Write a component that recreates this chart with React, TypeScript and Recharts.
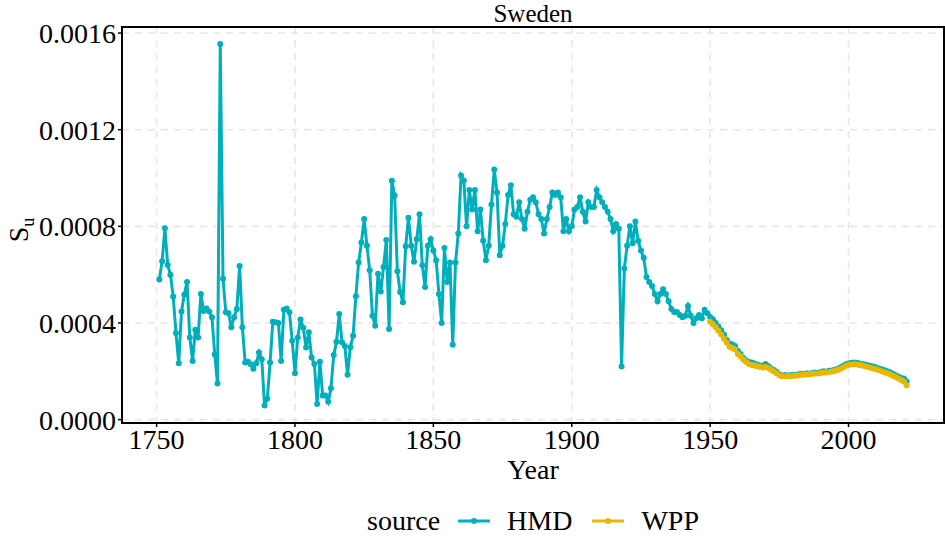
import React from 'react';
import { LineChart, Line, XAxis, YAxis, CartesianGrid, Legend, ReferenceArea } from 'recharts';

// HMD series, one value per year from 1751 to 2021
const hmdStart = 1751;
const hmdValues = [
  0.00058, 0.000655, 0.000792, 0.00064, 0.0006, 0.00051, 0.000358, 0.000233, 0.000447, 0.000517,
  0.00057, 0.00034, 0.000243, 0.000372, 0.00034, 0.00052, 0.00045, 0.00046, 0.000447, 0.000424,
  0.00027, 0.00015, 0.001555, 0.000583, 0.000444, 0.00044, 0.000382, 0.000424, 0.000458, 0.000636,
  0.000382, 0.000236, 0.00024, 0.000229, 0.000211, 0.000233, 0.000278, 0.00025, 0.000058, 0.000086,
  0.000236, 0.000405, 0.000403, 0.0004, 0.000243, 0.000455, 0.00046, 0.000444, 0.000326, 0.000192,
  0.00034, 0.000414, 0.00038, 0.000298, 0.000362, 0.000257, 0.00023, 0.000065, 0.00024, 0.0001,
  0.0001, 0.000074, 0.00013, 0.000267, 0.000322, 0.000437, 0.00032, 0.000305, 0.000186, 0.0003,
  0.000347, 0.000511, 0.00065, 0.000733, 0.00083, 0.00072, 0.000618, 0.00043, 0.000389, 0.000604,
  0.00053, 0.000632, 0.000743, 0.000375, 0.000989, 0.000928, 0.000614, 0.000528, 0.000486, 0.000718,
  0.000836, 0.00072, 0.000653, 0.000747, 0.00085, 0.000639, 0.000549, 0.00072, 0.000747, 0.0007,
  0.00066, 0.00052, 0.0004, 0.00071, 0.00057, 0.00065, 0.00031, 0.00065, 0.00077, 0.00101,
  0.00099, 0.0008, 0.00095, 0.00087, 0.00095, 0.00078, 0.00087, 0.00074, 0.00066, 0.00072,
  0.00089, 0.001035, 0.00094, 0.00068, 0.00072, 0.00081, 0.00093, 0.00097, 0.00085, 0.00084,
  0.0009, 0.00083, 0.00079, 0.00086, 0.00091, 0.00092, 0.0009, 0.00085, 0.00083, 0.00077,
  0.00083, 0.00088, 0.00094, 0.00093, 0.00094, 0.00092, 0.00078, 0.00083, 0.00078, 0.0008,
  0.00087, 0.00088, 0.00092, 0.00086, 0.00082, 0.0009, 0.00088, 0.00088, 0.00095, 0.00092,
  0.0009, 0.00088, 0.00086, 0.00083, 0.00078, 0.00081, 0.00079, 0.00022, 0.000625, 0.00072,
  0.0008, 0.00073, 0.00082, 0.00074, 0.0007, 0.00067, 0.00059, 0.00057, 0.000553, 0.00052,
  0.00049, 0.00052, 0.00054, 0.00052, 0.00049, 0.000458, 0.000445, 0.000445, 0.000433, 0.000424,
  0.00043, 0.00047, 0.00043, 0.0004, 0.00042, 0.000433, 0.00042, 0.000455, 0.00044, 0.000425,
  0.000415, 0.0004, 0.000385, 0.00037, 0.000352, 0.00033, 0.000315, 0.000312, 0.000305, 0.000285,
  0.000272, 0.000255, 0.000245, 0.000238, 0.000236, 0.000232, 0.000228, 0.000224, 0.000222, 0.00023,
  0.000222, 0.000212, 0.000205, 0.000198, 0.000188, 0.000182, 0.000185, 0.000183, 0.000184, 0.000186,
  0.000184, 0.000188, 0.00019, 0.000188, 0.000192, 0.00019, 0.000193, 0.000195, 0.000194, 0.000197,
  0.0002, 0.000198, 0.000202, 0.000203, 0.000206, 0.00021, 0.000216, 0.000222, 0.000228, 0.000232,
  0.000235, 0.000236, 0.000235, 0.000232, 0.00023, 0.000228, 0.000225, 0.000222, 0.00022, 0.000216,
  0.000212, 0.000208, 0.000204, 0.0002, 0.000196, 0.00019, 0.000184, 0.000178, 0.000172, 0.00017,
  0.000158,
];

// WPP series, 1950 to 2021
const wppStart = 1950;
const wppValues = [
  0.000405, 0.000395, 0.000382, 0.000368, 0.000352, 0.000335, 0.000318, 0.000302, 0.000296, 0.00029,
  0.000272, 0.000262, 0.000248, 0.000238, 0.00023, 0.000226, 0.000224, 0.000221, 0.000218, 0.000216,
  0.000218, 0.000214, 0.000206, 0.000199, 0.000192, 0.000184, 0.000179, 0.00018, 0.000179, 0.00018,
  0.000182, 0.000182, 0.000184, 0.000186, 0.000186, 0.000188, 0.000188, 0.00019, 0.000191, 0.000191,
  0.000193, 0.000195, 0.000195, 0.000197, 0.000199, 0.000201, 0.000205, 0.00021, 0.000216, 0.000222,
  0.000226, 0.000228, 0.000229, 0.000228, 0.000226, 0.000224, 0.000221, 0.000218, 0.000215, 0.000212,
  0.000208, 0.000204, 0.0002, 0.000196, 0.000192, 0.000188, 0.000182, 0.000176, 0.00017, 0.000164,
  0.000158, 0.000142,
];

const xTicks = [1750, 1800, 1850, 1900, 1950, 2000];
const yTicks = [0, 0.0004, 0.0008, 0.0012, 0.0016];

const HMD_COLOR = '#00AFBB';
const WPP_COLOR = '#E7B800';
const FONT = '"Liberation Serif", "Times New Roman", serif';

const X_DOMAIN: [number, number] = [1737.5, 2034.5];
const Y_DOMAIN: [number, number] = [-0.000014, 0.001625];

const data = hmdValues.map((v, i) => {
  const year = hmdStart + i;
  const w = year >= wppStart ? wppValues[year - wppStart] : undefined;
  return { year, hmd: v, wpp: w };
});

const LegendContent = () => (
  <div
    style={{
      display: 'flex',
      justifyContent: 'center',
      alignItems: 'center',
      fontFamily: FONT,
      fontSize: 28,
      lineHeight: '28px',
      color: '#000',
      paddingTop: 14,
      paddingLeft: 142,
    }}
  >
    <span style={{ marginRight: 18 }}>source</span>
    {[
      { name: 'HMD', color: HMD_COLOR },
      { name: 'WPP', color: WPP_COLOR },
    ].map((item) => (
      <span key={item.name} style={{ display: 'flex', alignItems: 'center', marginRight: 20 }}>
        <svg width={32} height={10} style={{ marginRight: 17 }}>
          <line x1={0} y1={5} x2={32} y2={5} stroke={item.color} strokeWidth={3} />
          <circle cx={16} cy={5} r={3} fill={item.color} />
        </svg>
        <span>{item.name}</span>
      </span>
    ))}
  </div>
);

const App: React.FC = () => {
  return (
    <div style={{ position: 'absolute', left: 0, top: 0, width: 945, height: 537, background: '#fff' }}>
      <svg width={40} height={120} style={{ position: 'absolute', left: 0, top: 170 }}>
        <text
          transform="translate(28,60) rotate(-90)"
          textAnchor="middle"
          fontFamily={FONT}
          fontSize={28}
          fill="#000"
        >
          S<tspan fontSize={18} dy={6}>u</tspan>
        </text>
      </svg>
      <LineChart
        width={945}
        height={537}
        data={data}
        margin={{ top: 27, right: 1, bottom: 0, left: 0 }}
        style={{ fontFamily: FONT }}
      >
        <CartesianGrid stroke="#E6E6E6" strokeWidth={1.6} strokeDasharray="7 6" verticalValues={xTicks} horizontalValues={yTicks} />
        <XAxis
          dataKey="year"
          type="number"
          domain={X_DOMAIN}
          ticks={xTicks}
          allowDataOverflow
          height={70}
          tickSize={4}
          tickMargin={2}
          axisLine={{ stroke: '#000', strokeWidth: 2 }}
          tickLine={{ stroke: '#000', strokeWidth: 1.5 }}
          tick={{ fill: '#000', fontSize: 28, fontFamily: FONT }}
          label={{ value: 'Year', position: 'insideBottom', offset: 14, fill: '#000', fontSize: 28, fontFamily: FONT }}
        />
        <YAxis
          type="number"
          domain={Y_DOMAIN}
          ticks={yTicks}
          allowDataOverflow
          width={122}
          tickSize={4}
          tickMargin={2}
          tickFormatter={(v: number) => v.toFixed(4)}
          axisLine={{ stroke: '#000', strokeWidth: 2 }}
          tickLine={{ stroke: '#000', strokeWidth: 1.5 }}
          tick={{ fill: '#000', fontSize: 28, fontFamily: FONT }}
        />
        <Legend verticalAlign="bottom" height={44} content={() => <LegendContent />} />
        <Line
          dataKey="hmd"
          name="HMD"
          stroke={HMD_COLOR}
          strokeWidth={3}
          dot={{ r: 3, fill: HMD_COLOR, stroke: HMD_COLOR, strokeWidth: 0 }}
          activeDot={false}
          isAnimationActive={false}
        />
        <Line
          dataKey="wpp"
          name="WPP"
          stroke={WPP_COLOR}
          strokeWidth={3}
          dot={{ r: 3, fill: WPP_COLOR, stroke: WPP_COLOR, strokeWidth: 0 }}
          activeDot={false}
          isAnimationActive={false}
        />
        <ReferenceArea
          x1={X_DOMAIN[0]}
          x2={X_DOMAIN[1]}
          y1={Y_DOMAIN[0]}
          y2={Y_DOMAIN[1]}
          fill="none"
          fillOpacity={0}
          stroke="#000"
          strokeWidth={2}
          ifOverflow="visible"
        />
      </LineChart>
      <div
        style={{
          position: 'absolute',
          left: 122,
          width: 822,
          top: 0,
          textAlign: 'center',
          fontFamily: FONT,
          fontSize: 25,
          lineHeight: 'normal',
        }}
      >
        Sweden
      </div>
    </div>
  );
};

export default App;
